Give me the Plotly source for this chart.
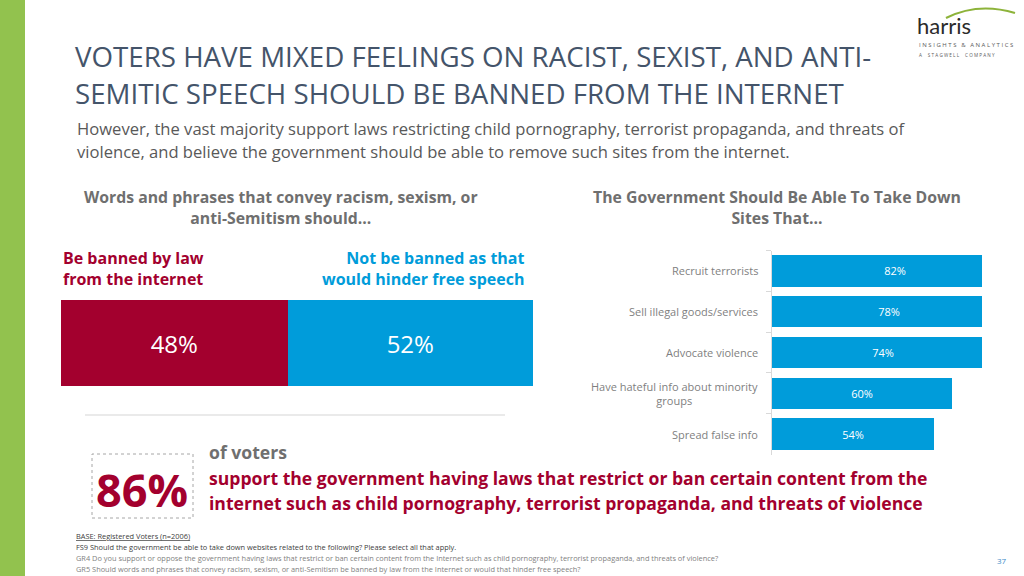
import plotly.graph_objects as go

W, H = 1024, 576

# ---------------- data ----------------
ban_labels = ["Be banned by law<br>from the internet", "Not be banned as that<br>would hinder free speech"]
ban_values = [48, 52]

site_categories = ["Recruit terrorists", "Sell illegal goods/services", "Advocate violence",
                   "Have hateful info about minority<br>groups", "Spread false info"]
site_values = [82, 78, 74, 60, 54]

support_value = 86

# ---------------- styling ----------------
MAROON = "#A3002E"
BLUE = "#009CDA"
GREEN = "#92C24E"
TITLE_C = "#44546A"
GREY = "#595959"
HEAD_C = "#6F6F6F"
FONT = "Open Sans"


def px(x):
    return x / W


def py(y):
    return 1 - y / H


fig = go.Figure()

# Left stacked bar
colors_left = [MAROON, BLUE]
for lab, val, col in zip(ban_labels, ban_values, colors_left):
    fig.add_trace(go.Bar(
        x=[val], y=["q"], orientation="h", width=1,
        marker=dict(color=col, line=dict(width=0)),
        text=[f"{val}%"], textposition="inside", insidetextanchor="middle",
        textfont=dict(color="white", size=24, family=FONT),
        xaxis="x", yaxis="y", showlegend=False, hoverinfo="skip", name=lab.replace("<br>", " ")
    ))

# Right bar chart
fig.add_trace(go.Bar(
    x=site_values, y=site_categories, orientation="h", width=0.77,
    marker=dict(color=BLUE, line=dict(width=0)),
    text=[f"{v}%" for v in site_values], textposition="inside", insidetextanchor="middle",
    textfont=dict(color="white", size=11, family=FONT),
    xaxis="x2", yaxis="y2", showlegend=False, hoverinfo="skip"
))

fig.update_layout(
    width=W, height=H, margin=dict(l=0, r=0, t=0, b=0),
    paper_bgcolor="white", plot_bgcolor="rgba(0,0,0,0)",
    barmode="stack",
    font=dict(family=FONT, color=GREY),
    xaxis=dict(domain=[px(61), px(533)], range=[0, 100], visible=False, fixedrange=True),
    yaxis=dict(domain=[py(386), py(300)], range=[-0.5, 0.5], visible=False, fixedrange=True),
    xaxis2=dict(domain=[px(772), px(982)], range=[0, 70], visible=False, anchor="y2", fixedrange=True),
    yaxis2=dict(domain=[py(454.5), py(250.5)], anchor="x2", autorange="reversed",
                categoryorder="array", categoryarray=site_categories,
                showticklabels=False, showline=True, linecolor="#D9D9D9", linewidth=1,
                ticks="outside", tickson="boundaries", ticklen=5, tickcolor="#D9D9D9",
                showgrid=False, zeroline=False, fixedrange=True),
)

ann = []


def add(text, x, y, size, color=GREY, xanchor="left", align="left", bold=False, family=FONT, yanchor="middle", **kw):
    if bold:
        text = f"<b>{text}</b>"
    ann.append(dict(text=text, x=px(x), y=py(y), xref="paper", yref="paper", showarrow=False,
                    xanchor=xanchor, yanchor=yanchor, align=align,
                    font=dict(size=size, color=color, family=family), **kw))


# Title and subtitle
add("VOTERS HAVE MIXED FEELINGS ON RACIST, SEXIST, AND ANTI-", 73, 56, 27.7, TITLE_C)
add("SEMITIC SPEECH SHOULD BE BANNED FROM THE INTERNET", 73, 93, 27.7, TITLE_C)
add("However, the vast majority support laws restricting child pornography, terrorist propaganda, and threats of",
    75, 128, 16.6, GREY)
add("violence, and believe the government should be able to remove such sites from the internet.",
    75, 151, 16.6, GREY)

# Section headers
add("Words and phrases that convey racism, sexism, or<br>anti-Semitism should…", 281, 207, 15.8, HEAD_C,
    xanchor="center", align="center", bold=True)
add("The Government Should Be Able To Take Down<br>Sites That…", 777, 207, 15.8, HEAD_C,
    xanchor="center", align="center", bold=True)

# Left labels
add(ban_labels[0], 61, 268, 16, MAROON, bold=True)
add(ban_labels[1], 527, 268, 16, BLUE, xanchor="right", align="right", bold=True)

# Right category labels
for cat in site_categories:
    ann.append(dict(text=cat, x=px(760), y=cat, xref="paper", yref="y2", showarrow=False,
                    xanchor="right", yanchor="middle", align="center",
                    font=dict(size=11, color="#7F7F7F", family=FONT)))

# 86% callout
add(f"<b>{support_value}%</b>", 142, 489, 45, MAROON, xanchor="center", align="center")
add("of voters", 207, 452, 17.6, "#6F6F6F", bold=True)
add("support the government having laws that restrict or ban certain content from the", 207, 478, 17.6, MAROON, bold=True)
add("internet such as child pornography, terrorist propaganda, and threats of violence", 207, 503, 17.6, MAROON, bold=True)

# Footnotes
add("<u>BASE: Registered Voters (n=2006)</u>", 74, 536, 7.4, "#404040")
add("FS9 Should the government be able to take down websites related to the following? Please select all that apply.",
    74, 547, 7.4, "#404040")
add("GR4 Do you support or oppose the government having laws that restrict or ban certain content from the Internet such as child pornography, terrorist propaganda, and threats of violence?",
    74, 558, 7.4, "#7F7F7F")
add("GR5 Should words and phrases that convey racism, sexism, or anti-Semitism be banned by law from the Internet or would that hinder free speech?",
    74, 569, 7.4, "#7F7F7F")
add("37", 1002, 560, 8, "#3D8BC9", xanchor="center")

# Logo
add("harris", 915, 26, 22, "#2B2B2B", family="Lato")
add("I N S I G H T S   &amp;   A N A L Y T I C S", 917, 45, 6, "#5A5A5A")
add("A     S T A G W E L L     C O M P A N Y", 917, 54.5, 4.6, "#5A5A5A")

fig.update_layout(annotations=ann)

sx0, sy0, cx, cy, sx1, sy1 = px(946), py(18), px(978), py(2), px(1015), py(13)
shapes = [
    # green side strip
    dict(type="rect", xref="paper", yref="paper", x0=0, x1=px(25), y0=0, y1=1,
         fillcolor=GREEN, line=dict(width=0), layer="below"),
    # gray separator under left bar
    dict(type="line", xref="paper", yref="paper", x0=px(85), x1=px(505), y0=py(415), y1=py(415),
         line=dict(color="#E3E3E3", width=1.5)),
    # dashed box around 86%
    dict(type="rect", xref="paper", yref="paper", x0=px(92), x1=px(193), y0=py(518), y1=py(454),
         line=dict(color="#A6A6A6", width=1, dash="dot")),
    # logo swoosh
    dict(type="path", xref="paper", yref="paper",
         path=f"M {sx0:.5f} {sy0:.5f} Q {cx:.5f} {cy:.5f} {sx1:.5f} {sy1:.5f}",
         line=dict(color="#8DB33A", width=2.2), layer="above"),
]
fig.update_layout(shapes=shapes)

fig.write_html("out.html", config={"displayModeBar": False},
               post_script="document.body.style.margin='0';document.body.style.overflow='hidden';")
